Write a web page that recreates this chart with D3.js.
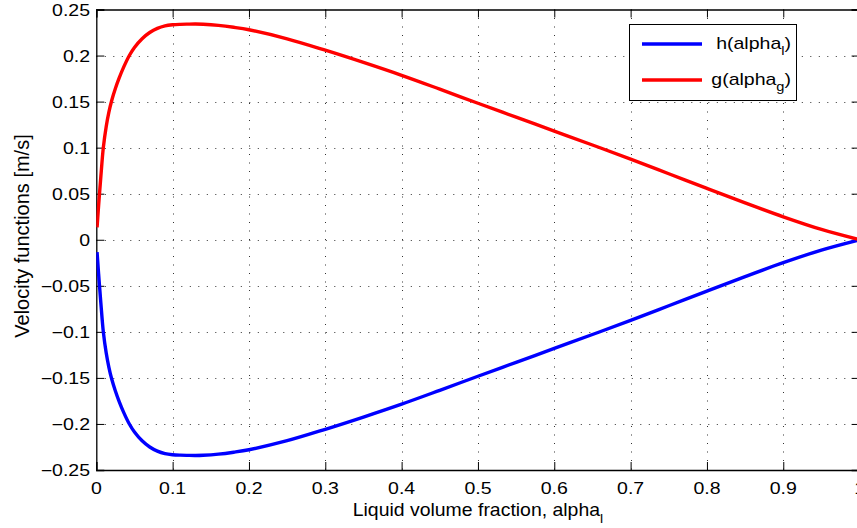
<!DOCTYPE html>
<html>
<head>
<meta charset="utf-8">
<script src="https://cdn.jsdelivr.net/npm/d3@7"></script>
<style>
  html, body { margin: 0; padding: 0; background: #fff; }
  svg { display: block; }
  text { font-family: "Liberation Sans", Arial, Helvetica, sans-serif; fill: #000; }
</style>
</head>
<body>
<script>
// Liquid volume fraction samples
const alpha = [0.001, 0.0025, 0.004, 0.006, 0.0092, 0.013, 0.0165, 0.0201, 0.025, 0.03,
  0.036, 0.0433, 0.05, 0.06, 0.07, 0.08, 0.09, 0.1, 0.11, 0.12, 0.13, 0.14, 0.16, 0.18,
  0.2, 0.25, 0.3, 0.35, 0.4, 0.45, 0.5, 0.55, 0.6, 0.65, 0.7, 0.75, 0.8, 0.85, 0.9, 0.95, 1.0];

// g(alpha_g) velocity function [m/s]
const gValues = [0.0135, 0.031, 0.048, 0.069, 0.100, 0.123, 0.1385, 0.151, 0.1642, 0.1757,
  0.1877, 0.2001, 0.2088, 0.2183, 0.2250, 0.2295, 0.2322, 0.2334, 0.2339, 0.2341, 0.2342,
  0.2340, 0.2328, 0.2307, 0.2280, 0.2182, 0.2058, 0.1925, 0.1785, 0.1635, 0.1482, 0.1331,
  0.1180, 0.1029, 0.0876, 0.0717, 0.0557, 0.0400, 0.0249, 0.0112, 0.0];

// h(alpha_l) velocity function [m/s]
const hValues = [-0.0135, -0.031, -0.048, -0.069, -0.100, -0.123, -0.1385, -0.151, -0.1642, -0.1757,
  -0.1877, -0.2001, -0.2088, -0.2183, -0.2250, -0.2295, -0.2322, -0.2334, -0.2339, -0.2341, -0.2342,
  -0.2340, -0.2328, -0.2307, -0.2280, -0.2182, -0.2058, -0.1925, -0.1785, -0.1635, -0.1482, -0.1331,
  -0.1180, -0.1029, -0.0876, -0.0717, -0.0557, -0.0400, -0.0249, -0.0112, -0.0];

const xTicks = [0, 0.1, 0.2, 0.3, 0.4, 0.5, 0.6, 0.7, 0.8, 0.9, 1];
const xTickLabels = ["0", "0.1", "0.2", "0.3", "0.4", "0.5", "0.6", "0.7", "0.8", "0.9", "1"];
const yTicks = [-0.25, -0.2, -0.15, -0.1, -0.05, 0, 0.05, 0.1, 0.15, 0.2, 0.25];
const yTickLabels = ["\u22120.25", "\u22120.2", "\u22120.15", "\u22120.1", "\u22120.05", "0",
  "0.05", "0.1", "0.15", "0.2", "0.25"];

const W = 857, H = 528;
const plotL = 96.3, plotR = 859.6, plotT = 9.5, plotB = 470;
const sx = 1.22; // horizontal text stretch

const svg = d3.select("body").append("svg").attr("width", W).attr("height", H);

const x = d3.scaleLinear().domain([0, 1]).range([plotL, plotR]);
const y = d3.scaleLinear().domain([-0.25, 0.25]).range([plotB, plotT]);

// dotted grid
const grid = svg.append("g").attr("stroke", "#333").attr("stroke-width", 1)
  .attr("stroke-dasharray", "1,7.5");
grid.selectAll("line.vx").data(xTicks.slice(1, -1)).join("line")
  .attr("x1", d => Math.round(x(d)) + 0.5).attr("x2", d => Math.round(x(d)) + 0.5)
  .attr("y1", plotT).attr("y2", plotB);
grid.selectAll("line.hy").data(yTicks.slice(1, -1)).join("line")
  .attr("x1", plotL).attr("x2", plotR)
  .attr("y1", d => Math.round(y(d)) + 0.5).attr("y2", d => Math.round(y(d)) + 0.5);

// axes (inward ticks, box on)
const tickLen = 8;
const axBottom = svg.append("g").attr("transform", `translate(0,${plotB})`)
  .call(d3.axisBottom(x).tickValues(xTicks).tickSize(-tickLen).tickFormat(""));
const axTop = svg.append("g").attr("transform", `translate(0,${plotT})`)
  .call(d3.axisTop(x).tickValues(xTicks).tickSize(-tickLen).tickFormat(""));
const axLeft = svg.append("g").attr("transform", `translate(${plotL},0)`)
  .call(d3.axisLeft(y).tickValues(yTicks).tickSize(-tickLen).tickFormat(""));
const axRight = svg.append("g").attr("transform", `translate(${plotR},0)`)
  .call(d3.axisRight(y).tickValues(yTicks).tickSize(-tickLen).tickFormat(""));
[axBottom, axTop, axLeft, axRight].forEach(a => {
  a.select(".domain").attr("stroke", "#000").attr("stroke-width", 1.3);
  a.selectAll(".tick line").attr("stroke", "#000").attr("stroke-width", 1);
});

// tick labels
svg.append("g").selectAll("text").data(xTicks).join("text")
  .attr("transform", d => `translate(${x(d)},494) scale(${sx},1)`)
  .attr("text-anchor", "middle").attr("font-size", 16)
  .text((d, i) => xTickLabels[i]);
svg.append("g").selectAll("text").data(yTicks).join("text")
  .attr("transform", d => `translate(90,${y(d) + 6}) scale(${sx},1)`)
  .attr("text-anchor", "end").attr("font-size", 16)
  .text((d, i) => yTickLabels[i]);

// curves
svg.append("clipPath").attr("id", "plotclip").append("rect")
  .attr("x", plotL).attr("y", plotT).attr("width", plotR - plotL).attr("height", plotB - plotT);
const lineG = d3.line().x((d, i) => x(alpha[i])).y(d => y(d))
  .curve(d3.curveCatmullRom.alpha(0.5));
const curves = svg.append("g").attr("clip-path", "url(#plotclip)");
curves.append("path").datum(hValues).attr("d", lineG)
  .attr("fill", "none").attr("stroke", "#0000ff").attr("stroke-width", 3.4);
curves.append("path").datum(gValues).attr("d", lineG)
  .attr("fill", "none").attr("stroke", "#ff0000").attr("stroke-width", 3.4);

// axis titles
const xt = svg.append("text")
  .attr("transform", `translate(${(plotL + plotR) / 2},516) scale(1.08,1)`)
  .attr("text-anchor", "middle").attr("font-size", 18);
xt.append("tspan").text("Liquid volume fraction, alpha");
xt.append("tspan").attr("font-size", 13).attr("dy", 7).text("l");

svg.append("text")
  .attr("transform", "translate(29,236) rotate(-90)")
  .attr("text-anchor", "middle").attr("font-size", 20)
  .text("Velocity functions [m/s]");

// legend
const legendItems = [
  { base: "h(alpha", sub: "l", color: "#0000ff" },
  { base: "g(alpha", sub: "g", color: "#ff0000" }
];
const lg = svg.append("g");
lg.append("rect").attr("x", 629.5).attr("y", 24.5).attr("width", 167).attr("height", 76)
  .attr("fill", "#fff").attr("stroke", "#000").attr("stroke-width", 1);
legendItems.forEach((it, i) => {
  const cy = 44 + i * 36;
  lg.append("line").attr("x1", 642).attr("x2", 702).attr("y1", cy).attr("y2", cy)
    .attr("stroke", it.color).attr("stroke-width", 3.4);
  const t = lg.append("text")
    .attr("transform", `translate(791,${cy + 4.5}) scale(${sx},1)`)
    .attr("text-anchor", "end").attr("font-size", 16);
  t.append("tspan").text(it.base);
  t.append("tspan").attr("font-size", 12).attr("dy", 6).text(it.sub);
  t.append("tspan").attr("dy", -6).text(")");
});
</script>
</body>
</html>
